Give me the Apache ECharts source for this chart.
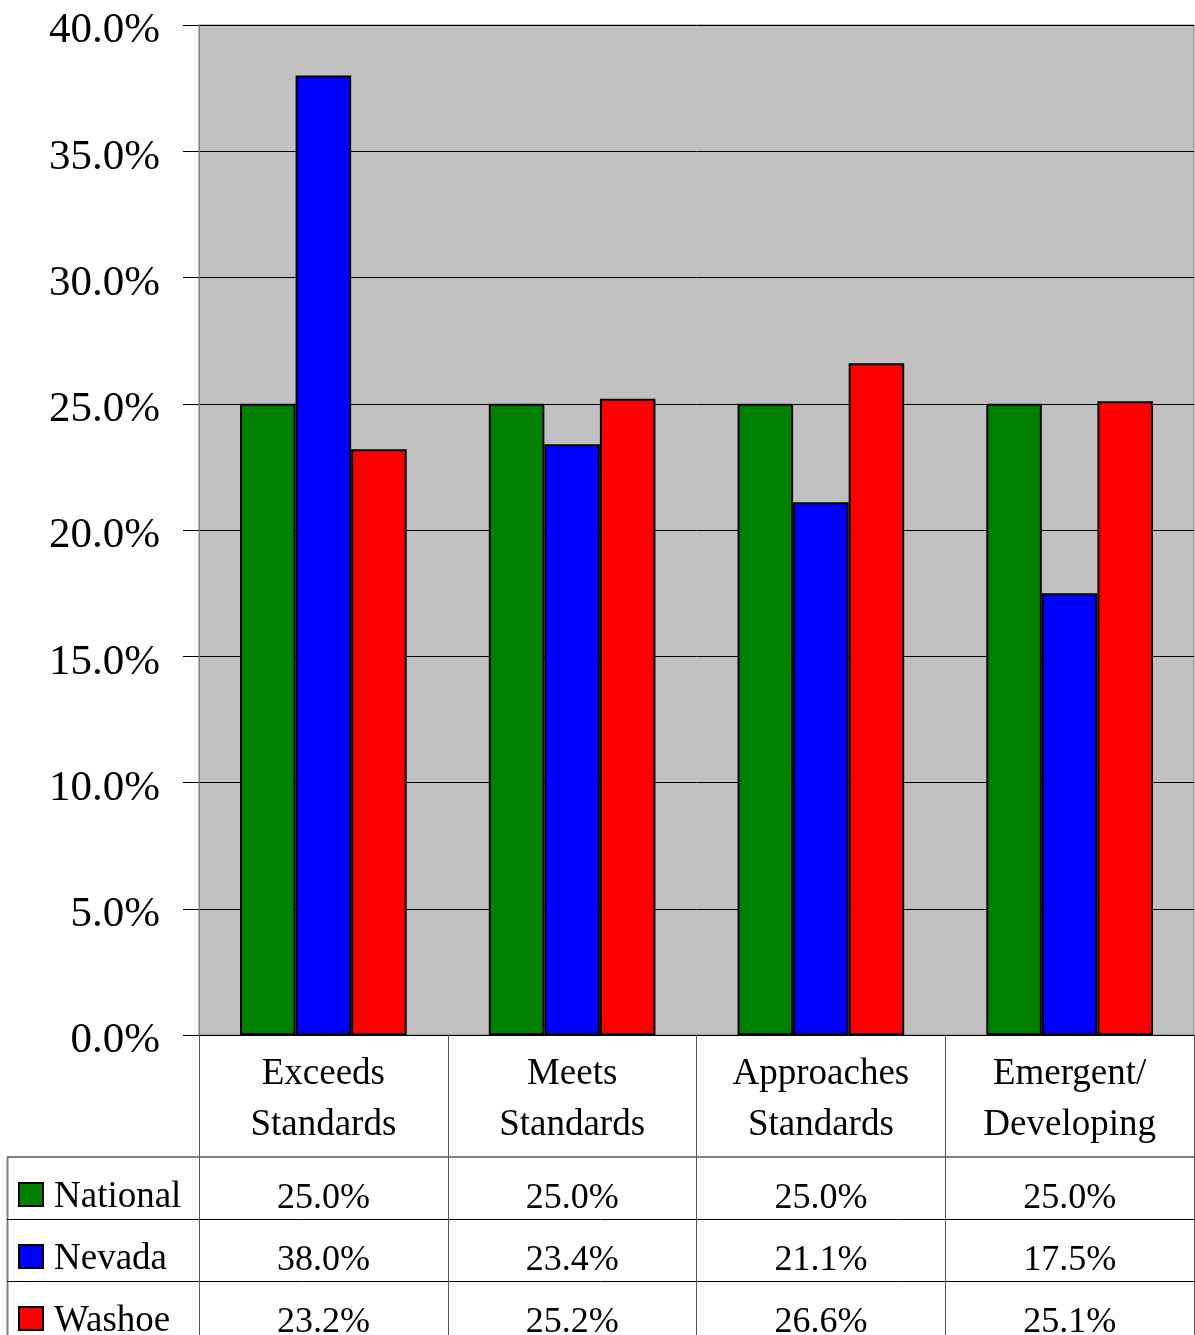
<!DOCTYPE html>
<html>
<head>
<meta charset="utf-8">
<title>Standards comparison</title>
<script src="https://cdn.jsdelivr.net/npm/echarts@6/dist/echarts.min.js"></script>
<style>
  html, body { margin: 0; padding: 0; background: #fff; }
  #main { width: 1195px; height: 1335px; }
</style>
</head>
<body>
<div id="main"></div>
<script>
(function () {
    'use strict';

    // data
    var categories = ['Exceeds Standards', 'Meets Standards', 'Approaches Standards', 'Emergent/ Developing'];
    var seriesNames = ['National', 'Nevada', 'Washoe'];
    var national = [25.0, 25.0, 25.0, 25.0];
    var nevada = [38.0, 23.4, 21.1, 17.5];
    var washoe = [23.2, 25.2, 26.6, 25.1];
    var yTicks = [0, 5, 10, 15, 20, 25, 30, 35, 40];

    var font = 'Liberation Serif';
    var colors = ['#008000', '#0000ff', '#ff0000'];
    var rows = [national, nevada, washoe];

    var pct = function (v) { return v.toFixed(1) + '%'; };

    var chart = echarts.init(document.getElementById('main'));

    // layout of plot + data table
    var plotLeft = 199, plotTop = 25, plotBottom = 1035, W = 1195, H = 1335;
    var headRow = 122, rowH = 62;
    var tableTop = plotBottom + headRow;

    var xAxes = [{
        type: 'category',
        data: categories,
        position: 'bottom',
        axisLine: { show: true, lineStyle: { color: '#000', width: 1 } },
        axisTick: { show: true, inside: false, length: H - plotBottom, lineStyle: { color: '#555', width: 1 } },
        axisLabel: {
            interval: 0,
            margin: 14,
            fontFamily: font,
            fontSize: 37,
            lineHeight: 51,
            color: '#000',
            formatter: function (v) { return v.replace(' ', '\n'); }
        }
    }];
    // one extra hidden axis per table row, its labels are the values
    rows.forEach(function (r, i) {
        xAxes.push({
            type: 'category',
            data: r.map(pct),
            position: 'bottom',
            offset: headRow + i * rowH,
            axisLine: { show: false },
            axisTick: { show: false },
            axisLabel: {
                interval: 0,
                margin: 22,
                fontFamily: font,
                fontSize: 36,
                lineHeight: 40,
                color: '#000'
            }
        });
    });

    // one legend per table row so each key sits in its own row
    var legends = seriesNames.map(function (name, i) {
        return {
            orient: 'horizontal',
            left: 18,
            top: tableTop + i * rowH + 39 - 23,
            padding: 0,
            itemWidth: 24,
            itemHeight: 23,
            icon: 'rect',
            data: [name],
            formatter: '{t|{name}}',
            textStyle: {
                color: '#000',
                rich: {
                    t: {
                        fontFamily: font,
                        fontSize: 37,
                        lineHeight: 40,
                        color: '#000',
                        padding: [6, 0, 0, 6]
                    }
                }
            }
        };
    });

    var lines = [];
    lines.push({ type: 'line', shape: { x1: 7, y1: tableTop, x2: W - 1, y2: tableTop }, style: { stroke: '#808080', lineWidth: 2 } });
    lines.push({ type: 'line', shape: { x1: 7.5, y1: tableTop, x2: 7.5, y2: H }, style: { stroke: '#808080', lineWidth: 2 } });
    for (var k = 1; k < 3; k++) {
        var y = tableTop + k * rowH + 0.5;
        lines.push({ type: 'line', shape: { x1: 7, y1: y, x2: W - 1, y2: y }, style: { stroke: '#000', lineWidth: 1 } });
    }

    var option = {
        animation: false,
        backgroundColor: '#fff',
        textStyle: { fontFamily: font },
        grid: {
            left: plotLeft,
            right: 1,
            top: plotTop,
            bottom: H - plotBottom,
            containLabel: false,
            outerBoundsMode: 'none',
            show: true,
            backgroundColor: '#c0c0c0',
            borderColor: '#808080',
            borderWidth: 1
        },
        legend: legends,
        xAxis: xAxes,
        yAxis: {
            type: 'value',
            min: yTicks[0],
            max: yTicks[yTicks.length - 1],
            interval: 5,
            axisLine: { show: true, lineStyle: { color: '#808080' } },
            axisTick: { show: true, inside: false, length: 16, lineStyle: { color: '#000' } },
            splitLine: { show: true, lineStyle: { color: '#000', width: 1 } },
            axisLabel: {
                margin: 39,
                color: '#000',
                formatter: function (v) { return '{t|' + pct(v) + '}'; },
                rich: {
                    t: {
                        fontFamily: font,
                        fontSize: 43,
                        lineHeight: 46,
                        color: '#000',
                        padding: [12, 0, 0, 0]
                    }
                }
            }
        },
        graphic: lines,
        series: rows.map(function (r, i) {
            return {
                name: seriesNames[i],
                type: 'bar',
                xAxisIndex: 0,
                data: r,
                barGap: '0%',
                barCategoryGap: '33%',
                itemStyle: { color: colors[i], borderColor: '#000', borderWidth: 2 }
            };
        })
    };

    chart.setOption(option);
    window.addEventListener('resize', function () {
        chart.resize();
    });
})();
</script>
</body>
</html>
